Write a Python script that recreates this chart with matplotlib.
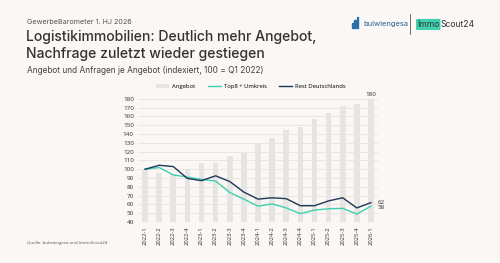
import numpy as np
import matplotlib
matplotlib.use("Agg")
import matplotlib.pyplot as plt
from matplotlib.patches import Rectangle

# data (index, 100 = Q1 2022)
quarters = ["2022-1", "2022-2", "2022-3", "2022-4", "2023-1", "2023-2", "2023-3", "2023-4",
            "2024-1", "2024-2", "2024-3", "2024-4", "2025-1", "2025-2", "2025-3", "2025-4", "2026-1"]
angebot = [100, 96, 95, 100, 107, 107, 115, 118, 129, 136, 145, 148, 157, 164, 172, 174, 180]
top8 = [100, 102, 93.5, 91, 88.5, 86.5, 73.5, 66, 58, 60.5, 56, 49.5, 53.5, 55, 55.5, 49, 58]
rest = [100, 104.5, 103, 89.5, 87, 92.5, 86, 74, 66, 67.5, 66.5, 58.5, 58.5, 64, 67.5, 56, 62]

BG = "#faf7f4"
BAR = "#e6e5e4"
TEAL = "#3dd1b0"
NAVY = "#1e3657"
TXT = "#333333"

plt.rcParams["font.family"] = ["Inter", "DejaVu Sans"]

fig = plt.figure(figsize=(5.0, 2.63), dpi=100, facecolor=BG)
ax = fig.add_axes([0.276, 0.156, 0.48, 0.468], facecolor=BG)

x = np.arange(len(quarters))
ax.bar(x, angebot, width=0.4, color=BAR, zorder=2, label="Angebot")
ax.plot(x, top8, color=TEAL, lw=1.0, zorder=3, label="Top8 + Umkreis")
ax.plot(x, rest, color=NAVY, lw=1.0, zorder=4, label="Rest Deutschlands")

ax.set_xlim(-0.5, len(quarters) - 0.5)
ax.set_ylim(40, 180)
ax.set_yticks(np.arange(40, 181, 10))
ax.grid(axis="y", color="#e2e0de", lw=0.5, zorder=0)
ax.set_axisbelow(True)
for s in ax.spines.values():
    s.set_visible(False)
ax.set_xticks(x)
ax.set_xticklabels(quarters, rotation=90, fontsize=4.2, color=TXT, family="Open Sans")
ax.tick_params(axis="both", length=0, pad=3)
ax.tick_params(axis="y", labelsize=4.5, labelcolor=TXT)
for lab in ax.get_yticklabels():
    lab.set_family("Open Sans")

# end labels
ax.text(x[-1], angebot[-1] + 2, f"{angebot[-1]}", ha="center", va="bottom",
        fontsize=4.5, color=TXT, family="Open Sans", clip_on=False)
ax.text(x[-1] + 0.45, rest[-1] + 0.5, f"{rest[-1]}", ha="left", va="center",
        fontsize=4.5, color=TXT, family="Open Sans")
ax.text(x[-1] + 0.45, top8[-1] - 1.5, f"{top8[-1]}", ha="left", va="center",
        fontsize=4.5, color=TXT, family="Open Sans")

handles, labels = ax.get_legend_handles_labels()
order = [labels.index("Angebot"), labels.index("Top8 + Umkreis"), labels.index("Rest Deutschlands")]
ax.legend([handles[i] for i in order], [labels[i] for i in order],
          loc="lower center", bbox_to_anchor=(0.47, 1.04), ncol=3, frameon=False,
          handlelength=2.2, handleheight=0.6, columnspacing=2.2,
          handletextpad=0.5, prop={"family": "Open Sans", "size": 4.2})

# header texts
fig.text(0.054, 0.918, "GewerbeBarometer 1. HJ 2026", fontsize=5.2, color="#555555", va="center")
fig.text(0.052, 0.858, "Logistikimmobilien: Deutlich mehr Angebot,", fontsize=10.1,
         color=TXT, va="center", weight="medium")
fig.text(0.052, 0.793, "Nachfrage zuletzt wieder gestiegen", fontsize=10.1,
         color=TXT, va="center", weight="medium")
fig.text(0.054, 0.733, "Angebot und Anfragen je Angebot (indexiert, 100 = Q1 2022)",
         fontsize=6.0, color="#444444", va="center")

# logo-like marks
for i, h in enumerate([0.018, 0.03, 0.042]):
    fig.add_artist(Rectangle((0.704 + i * 0.0045, 0.893), 0.003, h, color="#2a6fa8",
                             transform=fig.transFigure))
fig.text(0.726, 0.907, "bulwiengesa", fontsize=5.4, color="#2a5d8f", va="center")
fig.add_artist(plt.Line2D([0.82, 0.82], [0.87, 0.945], color="#555555", lw=0.6,
                          transform=fig.transFigure))
fig.text(0.834, 0.907, "Immo", fontsize=6.2, color=TXT, va="center",
         bbox=dict(boxstyle="round,pad=0.12", fc=TEAL, ec="none"))
fig.text(0.882, 0.907, "Scout24", fontsize=6.2, color=TXT, va="center")

fig.text(0.054, 0.075, "Quelle: bulwiengesa und ImmoScout24", fontsize=3.2, color="#555555",
         va="center", family="Open Sans")

fig.savefig("out.png", dpi=100, facecolor=BG)
